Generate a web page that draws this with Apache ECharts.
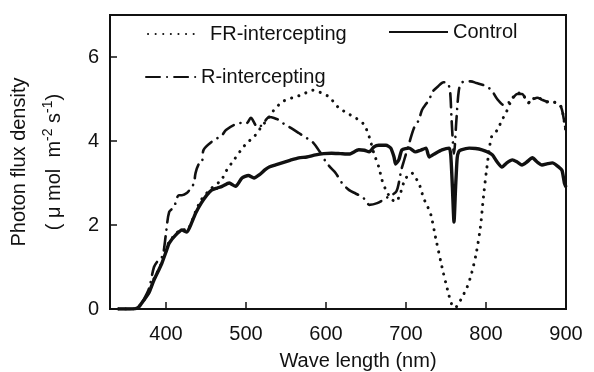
<!DOCTYPE html>
<html><head><meta charset="utf-8">
<script src="https://cdn.jsdelivr.net/npm/echarts@6/dist/echarts.min.js"></script>
<style>html,body{margin:0;padding:0;background:#fff}#c{width:594px;height:372px}</style>
</head><body><div id="c"></div>
<script>
// ---- data ----
var xTicks = [400, 500, 600, 700, 800, 900];
var yTicks = [0, 2, 4, 6];
var seriesNames = ['FR-intercepting', 'Control', 'R-intercepting'];

var controlX = [340,355,362,366,372,379,385,391,395,400,404,412,420,426,432,437,444,451,457,464,470,479,487,495,503,510,517,524,529,537,545,555,566,576,587,597,607,618,629,641,648,654,660,666,675,681,685,687,691,695,704,712,718,725,729,737,745,754,756,758,760,762,764,766,769,779,787,795,802,808,814,820,826,833,839,845,851,858,864,870,877,883,891,895,898,900];
var controlY = [0,0,0.01,0.05,0.2,0.4,0.69,0.93,1.1,1.36,1.57,1.76,1.88,1.83,2.05,2.28,2.52,2.71,2.83,2.88,2.92,3.0,2.92,3.12,3.18,3.12,3.2,3.32,3.38,3.43,3.48,3.54,3.6,3.62,3.67,3.7,3.71,3.7,3.69,3.79,3.78,3.74,3.86,3.9,3.9,3.83,3.62,3.45,3.55,3.79,3.83,3.74,3.78,3.83,3.62,3.71,3.79,3.83,3.65,2.9,2.07,2.9,3.6,3.75,3.79,3.83,3.82,3.79,3.74,3.67,3.5,3.38,3.48,3.55,3.5,3.43,3.5,3.6,3.5,3.43,3.46,3.48,3.38,3.3,3.0,2.9];

var frX = [340,355,362,366,372,379,385,391,395,400,404,412,420,426,432,437,444,451,457,469,476,485,494,501,510,519,527,533,539,545,553,562,572,583,590,597,604,610,616,626,637,643,648,654,660,666,670,675,681,687,692,697,700,707,712,716,719,722,726,731,737,745,752,757,761,765,770,776,782,788,793,797,801,807,814,820,825,832,839,845,851,856,860,864,870,876,882,889,894,897,900];
var frY = [0,0,0.01,0.05,0.2,0.42,0.72,0.95,1.12,1.4,1.6,1.78,1.9,1.87,2.08,2.32,2.6,2.76,2.88,3.07,3.31,3.55,3.79,3.95,4.1,4.33,4.52,4.69,4.82,4.93,5.0,5.05,5.12,5.21,5.18,5.12,5.05,4.92,4.79,4.67,4.55,4.47,4.38,4.1,3.7,3.38,3.07,2.83,2.64,2.55,2.7,3.0,3.12,3.24,3.12,3.0,2.83,2.64,2.48,2.25,1.7,1.0,0.45,0.12,0.03,0.1,0.28,0.5,0.85,1.35,1.95,2.7,3.35,4.1,4.26,4.5,4.67,4.98,5.14,5.14,4.93,4.9,5.02,5.05,4.98,4.93,4.93,4.9,4.81,4.55,4.2];

var rX = [340,355,362,366,372,379,385,390,395,397,400,404,410,416,420,426,432,435,437,441,445,447,457,470,475,485,494,501,506,512,516,522,529,535,541,548,556,566,575,583,592,600,606,612,620,629,637,645,650,654,664,675,682,688,691,694,697,704,710,716,720,725,729,733,740,747,752,755,757,760,763,766,769,775,781,788,797,802,807,814,822,827,832,839,845,851,856,860,864,870,876,882,889,894,897,900];
var rY = [0,0,0.01,0.05,0.22,0.5,1.0,1.15,1.24,1.36,1.8,2.31,2.43,2.71,2.71,2.76,2.9,3.0,3.24,3.45,3.5,3.79,3.98,4.14,4.26,4.38,4.43,4.43,4.55,4.38,4.33,4.43,4.57,4.55,4.5,4.4,4.31,4.19,4.08,3.98,3.75,3.5,3.36,3.24,3.0,2.83,2.75,2.67,2.58,2.48,2.52,2.64,2.71,2.8,3.0,3.3,3.5,3.95,4.31,4.5,4.74,4.88,4.98,5.17,5.3,5.4,5.38,5.2,4.5,3.7,4.5,5.2,5.38,5.42,5.42,5.38,5.33,5.28,5.21,5.0,4.86,4.9,4.98,5.12,5.12,4.95,4.92,5.0,5.03,4.98,4.94,4.93,4.9,4.8,4.55,4.2];

function pairs(xs, ys) { return xs.map(function (x, i) { return [x, ys[i]]; }); }

var FONT = 'Liberation Sans, Arial, sans-serif';
var chart = echarts.init(document.getElementById('c'), null, { renderer: 'canvas' });

var legendBase = {
  orient: 'horizontal', itemWidth: 50, itemHeight: 14, itemGap: 6,
  textStyle: { fontFamily: FONT, fontSize: 20, color: '#111' },
  itemStyle: { color: 'rgba(0,0,0,0)', borderColor: 'rgba(0,0,0,0)', borderWidth: 0, opacity: 0 },
  selectedMode: false, padding: 0
};

chart.setOption({
  animation: false,
  backgroundColor: '#fff',
  grid: { left: 110, top: 15, right: 28, bottom: 63, show: true, borderColor: '#111', borderWidth: 2,
          containLabel: false, outerBoundsMode: 'none' },
  legend: [
    Object.assign({}, legendBase, { data: [seriesNames[0]], left: 147, top: 24,
      textStyle: Object.assign({}, legendBase.textStyle, { padding: [0, 0, 0, 7] }) }),
    Object.assign({}, legendBase, { data: [seriesNames[1]], left: 388, top: 22, itemWidth: 59 }),
    Object.assign({}, legendBase, { data: [seriesNames[2]], left: 145, top: 67 })
  ],
  xAxis: {
    type: 'value', min: 330, max: 900,
    name: 'Wave length (nm)', nameLocation: 'middle', nameGap: 42,
    nameTextStyle: { fontFamily: FONT, fontSize: 20, color: '#111', padding: [0, 0, 0, 40] },
    axisLine: { lineStyle: { color: '#111', width: 2 } },
    axisTick: { inside: true, length: 7, lineStyle: { color: '#111', width: 1.5 }, customValues: xTicks },
    axisLabel: { fontFamily: FONT, fontSize: 20, color: '#111', margin: 15, customValues: xTicks,
      formatter: function (v) { return v % 100 === 0 ? String(v) : ''; } },
    splitLine: { show: false }
  },
  yAxis: {
    type: 'value', min: 0, max: 7,
    name: '{a|Photon flux density}\n{b|( μ mol  m}{s|-2}{b| s}{s|-1}{b|)}',
    nameLocation: 'middle', nameRotate: 90, nameGap: 38,
    nameTextStyle: {
      rich: {
        a: { fontFamily: FONT, fontSize: 20, color: '#111', lineHeight: 35 },
        b: { fontFamily: FONT, fontSize: 20, color: '#111', lineHeight: 35 },
        s: { fontFamily: FONT, fontSize: 14, color: '#111', lineHeight: 35, padding: [0, 0, 12, 0] }
      }
    },
    axisLine: { lineStyle: { color: '#111', width: 2 } },
    axisTick: { inside: true, length: 7, lineStyle: { color: '#111', width: 1.5 }, customValues: yTicks },
    axisLabel: { fontFamily: FONT, fontSize: 20, color: '#111', margin: 11, customValues: yTicks },
    splitLine: { show: false }
  },
  series: [
    { name: seriesNames[0], type: 'line', data: pairs(frX, frY), symbol: 'none', smooth: 0.3,
      itemStyle: { color: '#111' },
      lineStyle: { color: '#111', width: 3, type: [0.1, 7.5], cap: 'round' }, z: 3 },
    { name: seriesNames[1], type: 'line', data: pairs(controlX, controlY), symbol: 'none', smooth: 0.2,
      itemStyle: { color: '#111' },
      lineStyle: { color: '#111', width: 3.4, type: 'solid' }, z: 4 },
    { name: seriesNames[2], type: 'line', data: pairs(rX, rY), symbol: 'none', smooth: 0.3,
      itemStyle: { color: '#111' },
      lineStyle: { color: '#111', width: 2.6, type: [14, 7, 0.1, 7], cap: 'round' }, z: 3 }
  ]
});
</script></body></html>
